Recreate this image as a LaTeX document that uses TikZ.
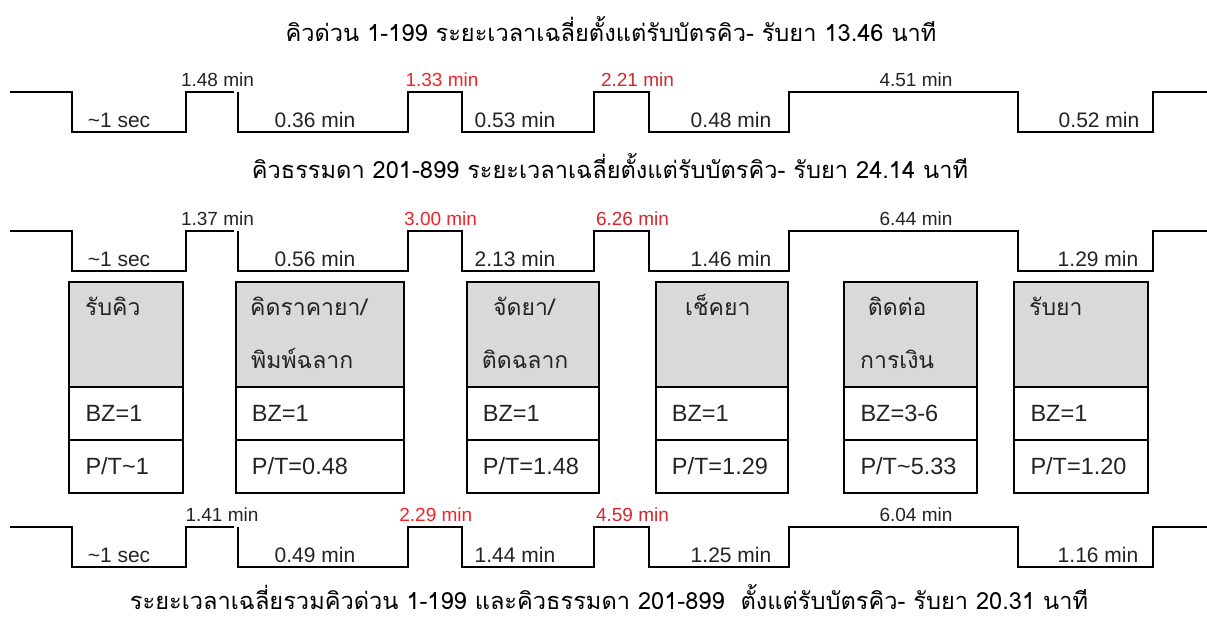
\documentclass[tikz,border=0pt]{standalone}
\usepackage{fontspec}
\setmainfont{Liberation Sans}
\newfontfamily\thfont[Script=Thai]{Loma}
\definecolor{redA}{RGB}{240,36,40}
\definecolor{redB}{RGB}{210,40,46}
\definecolor{boxgray}{RGB}{217,217,217}
\definecolor{txtc}{RGB}{35,35,35}
\newcommand{\wavesignal}{%
  \draw[wave] (10,0) -- (72,0) -- (72,40) -- (186,40) -- (186,0) -- (234,0);
  \draw[wave] (238,0) -- (238,40) -- (408,40) -- (408,0) -- (462,0) -- (462,40)
    -- (594,40) -- (594,0) -- (649,0) -- (649,40) -- (789,40) -- (789,0)
    -- (1018,0) -- (1018,40) -- (1153,40) -- (1153,0) -- (1207,0);}
\newcommand{\procbox}[5]{%
  \draw[boxline, fill=boxgray] (#2,282) rectangle (#3,387);
  \draw[boxline] (#2,387) rectangle (#3,440);
  \draw[boxline] (#2,440) rectangle (#3,493);
  \node[celltxt] (#1bz) at (#2+16,421.7) {#4};
  \node[celltxt] (#1pt) at (#2+16,474.8) {#5};}
\begin{document}
\begin{tikzpicture}[x=1pt,y=-1pt,
  wave/.style={line width=1.8pt, line join=miter},
  boxline/.style={line width=2pt},
  toplbl/.style={font=\fontsize{19}{22}\selectfont, anchor=base, text=txtc, inner sep=0pt},
  botlbl/.style={font=\fontsize{21}{24}\selectfont, anchor=base, text=txtc, inner sep=0pt},
  ttl/.style={font=\thfont\fontsize{23.6}{26}\selectfont, anchor=base, inner sep=0pt},
  celltxt/.style={font=\fontsize{23.5}{26}\selectfont, anchor=base west, text=txtc, inner sep=0pt},
  thlbl/.style={font=\thfont\fontsize{23}{26}\selectfont, anchor=base west, text=txtc, inner sep=0pt}]
\useasboundingbox (0,0) rectangle (1207,619);

% titles
\node[ttl] (t1) at (611,41) {คิวด่วน 1-199 ระยะเวลาเฉลี่ยตั้งแต่รับบัตรคิว- รับยา 13.46 นาที};
\node[ttl] (t2) at (610,178) {คิวธรรมดา 201-899 ระยะเวลาเฉลี่ยตั้งแต่รับบัตรคิว- รับยา 24.14 นาที};
\node[ttl] (t3) at (609,609) {ระยะเวลาเฉลี่ยรวมคิวด่วน 1-199 และคิวธรรมดา 201-899 \ ตั้งแต่รับบัตรคิว- รับยา 20.31 นาที};

% waveform 1
\begin{scope}[shift={(0,92)}]
  \wavesignal
  \node[toplbl] (a1) at (217.5,-6) {1.48 min};
  \node[toplbl, text=redA] (a2) at (442,-6) {1.33 min};
  \node[toplbl, text=redB] (a3) at (637.5,-6) {2.21 min};
  \node[toplbl] (a4) at (916,-6) {4.51 min};
  \node[botlbl] (a5) at (119,35) {\char`\~1 sec};
  \node[botlbl] (a6) at (315,35) {0.36 min};
  \node[botlbl] (a7) at (515,35) {0.53 min};
  \node[botlbl] (a8) at (731,35) {0.48 min};
  \node[botlbl] (a9) at (1099,35) {0.52 min};
\end{scope}

% waveform 2
\begin{scope}[shift={(0,231)}]
  \wavesignal
  \node[toplbl] (b1) at (217.5,-6) {1.37 min};
  \node[toplbl, text=redA] (b2) at (440.6,-6) {3.00 min};
  \node[toplbl, text=redB] (b3) at (632.5,-6) {6.26 min};
  \node[toplbl] (b4) at (916,-6) {6.44 min};
  \node[botlbl] (b5) at (119,35) {\char`\~1 sec};
  \node[botlbl] (b6) at (315,35) {0.56 min};
  \node[botlbl] (b7) at (515,35) {2.13 min};
  \node[botlbl] (b8) at (731,35) {1.46 min};
  \node[botlbl] (b9) at (1098,35) {1.29 min};
\end{scope}

% waveform 3
\begin{scope}[shift={(0,527)}]
  \wavesignal
  \node[toplbl] (c1) at (222,-6) {1.41 min};
  \node[toplbl, text=redA] (c2) at (435.8,-6) {2.29 min};
  \node[toplbl, text=redB] (c3) at (632.5,-6) {4.59 min};
  \node[toplbl] (c4) at (916,-6) {6.04 min};
  \node[botlbl] (c5) at (119,35) {\char`\~1 sec};
  \node[botlbl] (c6) at (315,35) {0.49 min};
  \node[botlbl] (c7) at (515,35) {1.44 min};
  \node[botlbl] (c8) at (731,35) {1.25 min};
  \node[botlbl] (c9) at (1098,35) {1.16 min};
\end{scope}

% process boxes
\procbox{p1}{69.3}{183.3}{BZ=1}{P/T\char`\~1}
\procbox{p2}{235.7}{404}{BZ=1}{P/T=0.48}
\procbox{p3}{466.7}{599}{BZ=1}{P/T=1.48}
\procbox{p4}{655.7}{788.3}{BZ=1}{P/T=1.29}
\procbox{p5}{844.3}{977}{BZ=3-6}{P/T\char`\~5.33}
\procbox{p6}{1014.3}{1148.3}{BZ=1}{P/T=1.20}

\node[thlbl] (p1a) at (85,315) {รับคิว};
\node[thlbl] (p2a) at (250,315) {คิดราคายา/};
\node[thlbl] (p2b) at (251,368) {พิมพ์ฉลาก};
\node[thlbl] (p3a) at (493,315) {จัดยา/};
\node[thlbl] (p3b) at (481.7,368) {ติดฉลาก};
\node[thlbl] (p4a) at (685,315) {เช็คยา};
\node[thlbl] (p5a) at (867.7,315) {ติดต่อ};
\node[thlbl] (p5b) at (860,368) {การเงิน};
\node[thlbl] (p6a) at (1029,315) {รับยา};
\end{tikzpicture}
\end{document}
